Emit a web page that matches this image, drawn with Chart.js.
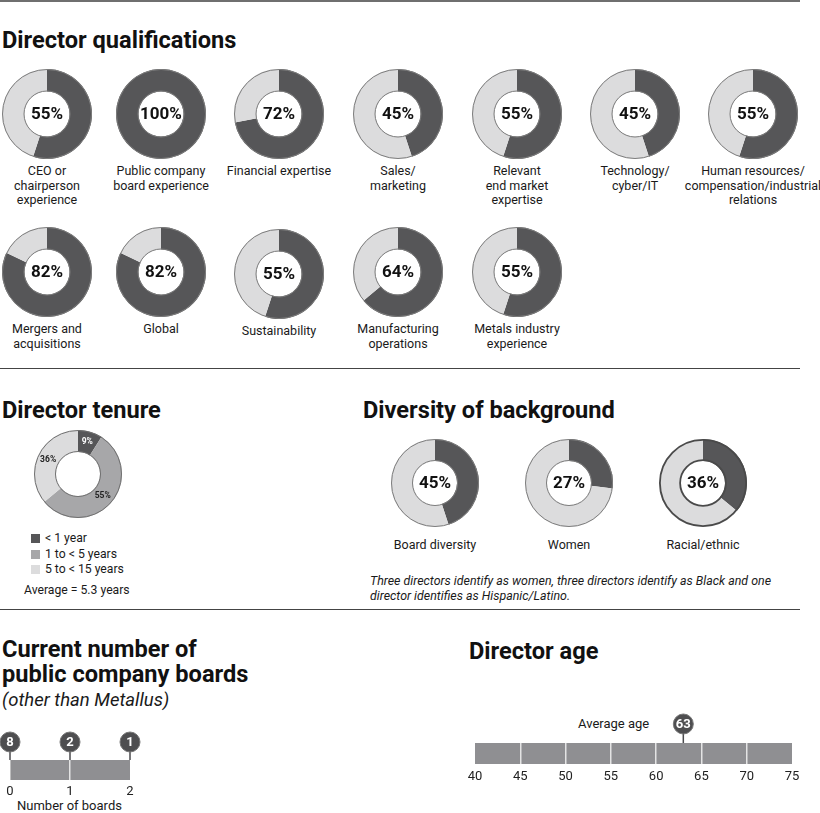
<!DOCTYPE html>
<html>
<head>
<meta charset="utf-8">
<script src="https://cdn.jsdelivr.net/npm/chart.js@4.4.1/dist/chart.umd.min.js"></script>
<style>
  body { margin: 0; background: #fff; font-family: Roboto, "Noto Sans", sans-serif; color: #1a1a1a; }
  #page { position: relative; width: 820px; height: 813px; overflow: hidden; }
  .abs { position: absolute; }
  .h { font-weight: 700; font-size: 23.6px; line-height: 26px; color: #111; white-space: nowrap; }
  .lbl { font-size: 12.5px; line-height: 14.7px; text-align: center; width: 140px; white-space: nowrap; }
  .rule { position: absolute; left: 0; width: 800px; }
  .sw { position: absolute; width: 9px; height: 9px; }
  .txt { font-size: 12.2px; line-height: 15px; white-space: nowrap; }
</style>
</head>
<body>
<div id="page">
  <div class="rule" style="top:0;height:2px;background:#6f6f6f"></div>
  <div class="abs h" style="left:2px;top:27px">Director qualifications</div>
  <div class="rule" style="top:368px;height:1px;background:#444"></div>
  <div class="abs h" style="left:2px;top:397px">Director tenure</div>
  <div class="abs h" style="left:363px;top:397px">Diversity of background</div>
  <div class="abs txt" style="left:370px;top:573px;font-style:italic;font-size:12.4px;line-height:15px">Three directors identify as women, three directors identify as Black and one<br>director identifies as Hispanic/Latino.</div>
  <div class="rule" style="top:609px;height:1px;background:#444"></div>
  <div class="abs h" style="left:2px;top:637px;line-height:25px">Current number of<br>public company boards</div>
  <div class="abs" style="left:2px;top:688px;font-size:18.5px;font-style:italic;line-height:24px">(other than Metallus)</div>
  <div class="abs txt" style="left:17px;top:798px;font-size:13px">Number of boards</div>
  <div class="abs h" style="left:469px;top:638px">Director age</div>
  <div class="abs txt" style="left:578px;top:716px;font-size:13px">Average age</div>
</div>
<script>
// ---- data ----
var qualLabels = [
  ["CEO or", "chairperson", "experience"],
  ["Public company", "board experience"],
  ["Financial expertise"],
  ["Sales/", "marketing"],
  ["Relevant", "end market", "expertise"],
  ["Technology/", "cyber/IT"],
  ["Human resources/", "compensation/industrial", "relations"],
  ["Mergers and", "acquisitions"],
  ["Global"],
  ["Sustainability"],
  ["Manufacturing", "operations"],
  ["Metals industry", "experience"]
];
var qualValues = [55, 100, 72, 45, 55, 45, 55, 82, 82, 55, 64, 55];

var tenureLabels = ["< 1 year", "1 to < 5 years", "5 to < 15 years"];
var tenureValues = [9, 55, 36];
var tenureAverage = "Average = 5.3 years";

var diversityLabels = ["Board diversity", "Women", "Racial/ethnic"];
var diversityValues = [45, 27, 36];

var boardTicks = [0, 1, 2];
var boardCounts = [8, 2, 1];

var ageMin = 40, ageMax = 75, ageStep = 5;
var averageAge = 63;

// ---- layout ----
var qualX = [47, 161, 279, 398, 517, 635, 753, 47, 161, 279, 398, 517];
var qualY = [114, 114, 114, 114, 114, 114, 114, 272, 272, 274, 272, 272];
var divX = [435, 569, 703];

var DARK = "#565658", MID = "#a7a7a9", LIGHT = "#dcdcdd", BAR = "#8f8f92";
var page = document.getElementById("page");

Chart.defaults.font.family = "Roboto, 'Noto Sans', sans-serif";
Chart.defaults.animation = false;

var centerText = {
  id: "centerText",
  afterDatasetsDraw: function(chart, args, o) {
    if (!o.text) return;
    var arc = chart.getDatasetMeta(0).data[0];
    var ctx = chart.ctx;
    ctx.save();
    ctx.font = "bold 17px Roboto";
    ctx.fillStyle = "#111";
    ctx.textAlign = "center";
    ctx.textBaseline = "middle";
    ctx.fillText(o.text, arc.x, arc.y + 1);
    ctx.restore();
  }
};

var ringOutline = {
  id: "ringOutline",
  afterDatasetsDraw: function(chart, args, o) {
    var arc = chart.getDatasetMeta(0).data[0];
    var ctx = chart.ctx;
    var w = o.width || 1;
    ctx.save();
    ctx.strokeStyle = o.color || "#7a7a7a";
    ctx.lineWidth = w;
    ctx.beginPath();
    ctx.arc(arc.x, arc.y, arc.outerRadius - w / 2, 0, Math.PI * 2);
    ctx.stroke();
    ctx.beginPath();
    ctx.arc(arc.x, arc.y, arc.innerRadius + w / 2, 0, Math.PI * 2);
    ctx.stroke();
    ctx.restore();
  }
};

var sliceLabels = {
  id: "sliceLabels",
  afterDatasetsDraw: function(chart, args, o) {
    if (!o.show) return;
    var meta = chart.getDatasetMeta(0);
    var ctx = chart.ctx;
    ctx.save();
    ctx.font = "bold 8.5px Roboto";
    ctx.textAlign = "center";
    ctx.textBaseline = "middle";
    meta.data.forEach(function(arc, i) {
      var p = arc.tooltipPosition(true);
      ctx.fillStyle = o.colors[i];
      ctx.fillText(chart.data.datasets[0].data[i] + "%", p.x, p.y);
    });
    ctx.restore();
  }
};

var pins = {
  id: "pins",
  afterDraw: function(chart, args, o) {
    if (!o.values) return;
    var ctx = chart.ctx;
    var xs = chart.scales.x;
    var top = chart.chartArea.top;
    ctx.save();
    o.values.forEach(function(v, i) {
      var x = xs.getPixelForValue(v);
      var cy = top - o.offset;
      ctx.strokeStyle = "#4a4a4c";
      ctx.lineWidth = 1.5;
      ctx.beginPath();
      ctx.moveTo(x, cy);
      ctx.lineTo(x, top);
      ctx.stroke();
      ctx.beginPath();
      ctx.arc(x, cy, 10, 0, Math.PI * 2);
      ctx.fillStyle = "#4e4e50";
      ctx.fill();
      ctx.lineWidth = 1;
      ctx.strokeStyle = "#777";
      ctx.stroke();
      ctx.fillStyle = "#fff";
      ctx.font = "bold 13px Roboto";
      ctx.textAlign = "center";
      ctx.textBaseline = "middle";
      ctx.fillText(String(o.texts[i]), x, cy + 0.5);
    });
    ctx.restore();
  }
};

function makeCanvas(left, top, w, h) {
  var c = document.createElement("canvas");
  c.width = w; c.height = h;
  c.style.position = "absolute";
  c.style.left = left + "px";
  c.style.top = top + "px";
  c.style.width = w + "px";
  c.style.height = h + "px";
  page.appendChild(c);
  return c;
}

function addLabel(lines, cx, top) {
  var d = document.createElement("div");
  d.className = "abs lbl";
  d.style.left = (cx - 70) + "px";
  d.style.top = top + "px";
  d.innerHTML = lines.join("<br>");
  page.appendChild(d);
}

function donut(cx, cy, r, values, colors, plugOpts) {
  var size = r * 2 + 4;
  var c = makeCanvas(cx - size / 2, cy - size / 2, size, size);
  return new Chart(c, {
    type: "doughnut",
    data: { datasets: [{ data: values, backgroundColor: colors, borderWidth: 0 }] },
    options: {
      responsive: false,
      cutout: "50%",
      layout: { padding: 2 },
      plugins: Object.assign({ legend: { display: false }, tooltip: { enabled: false } }, plugOpts)
    },
    plugins: [centerText, ringOutline, sliceLabels]
  });
}

// qualifications
qualValues.forEach(function(v, i) {
  donut(qualX[i], qualY[i], 45, [v, 100 - v], [DARK, LIGHT], {
    centerText: { text: v + "%" },
    ringOutline: { color: "#7d7d7d", width: 1 }
  });
  addLabel(qualLabels[i], qualX[i], qualY[i] + 50);
});

// tenure
donut(78, 474, 44, tenureValues, [DARK, MID, LIGHT], {
  ringOutline: { color: "#707070", width: 1 },
  sliceLabels: { show: true, colors: ["#fff", "#222", "#222"] }
});
var swatch = [DARK, MID, LIGHT];
tenureLabels.forEach(function(t, i) {
  var s = document.createElement("div");
  s.className = "sw";
  s.style.left = "31px";
  s.style.top = (534 + i * 15.5) + "px";
  s.style.background = swatch[i];
  page.appendChild(s);
  var d = document.createElement("div");
  d.className = "abs txt";
  d.style.left = "45px";
  d.style.top = (531 + i * 15.5) + "px";
  d.textContent = t;
  page.appendChild(d);
});
var av = document.createElement("div");
av.className = "abs txt";
av.style.left = "24px";
av.style.top = "583px";
av.textContent = tenureAverage;
page.appendChild(av);

// diversity
diversityValues.forEach(function(v, i) {
  donut(divX[i], 483, 44, [v, 100 - v], [DARK, LIGHT], {
    centerText: { text: v + "%" },
    ringOutline: i === 2 ? { color: "#4a4a4a", width: 1.8 } : { color: "#7d7d7d", width: 1 }
  });
  addLabel([diversityLabels[i]], divX[i], 538);
});

// horizontal strip charts
function strip(left, top, w, h, pad, min, max, step, pinVals, pinTexts, pinOffset, axisH, tickPad) {
  var c = makeCanvas(left, top, w, h);
  return new Chart(c, {
    type: "bar",
    data: { labels: [""], datasets: [{ data: [[min, max]], backgroundColor: BAR, borderWidth: 0, borderSkipped: false, barPercentage: 1, categoryPercentage: 1 }] },
    options: {
      responsive: false,
      indexAxis: "y",
      layout: { padding: pad },
      scales: {
        x: {
          type: "linear", min: min, max: max,
          border: { display: false },
          grid: {
            z: 1, drawTicks: false, lineWidth: 1.5,
            color: function(ctx) { return (ctx.tick && ctx.tick.value > min && ctx.tick.value < max) ? "#e4e4e4" : "rgba(0,0,0,0)"; }
          },
          ticks: { stepSize: step, padding: tickPad, color: "#222", font: { size: 13 } },
          afterFit: function(s) { s.height = axisH; }
        },
        y: { display: false }
      },
      plugins: {
        legend: { display: false }, tooltip: { enabled: false },
        pins: { values: pinVals, texts: pinTexts, offset: pinOffset }
      }
    },
    plugins: [pins]
  });
}

strip(0, 728, 150, 72, { left: 10, right: 20, top: 32, bottom: 0 }, boardTicks[0], boardTicks[boardTicks.length - 1], 1,
      boardTicks, boardCounts, 18, 20, 4);

strip(455, 705, 357, 85, { left: 20, right: 20, top: 38, bottom: 0 }, ageMin, ageMax, ageStep,
      [averageAge], [averageAge], 19, 26, 5);
</script>
</body>
</html>
